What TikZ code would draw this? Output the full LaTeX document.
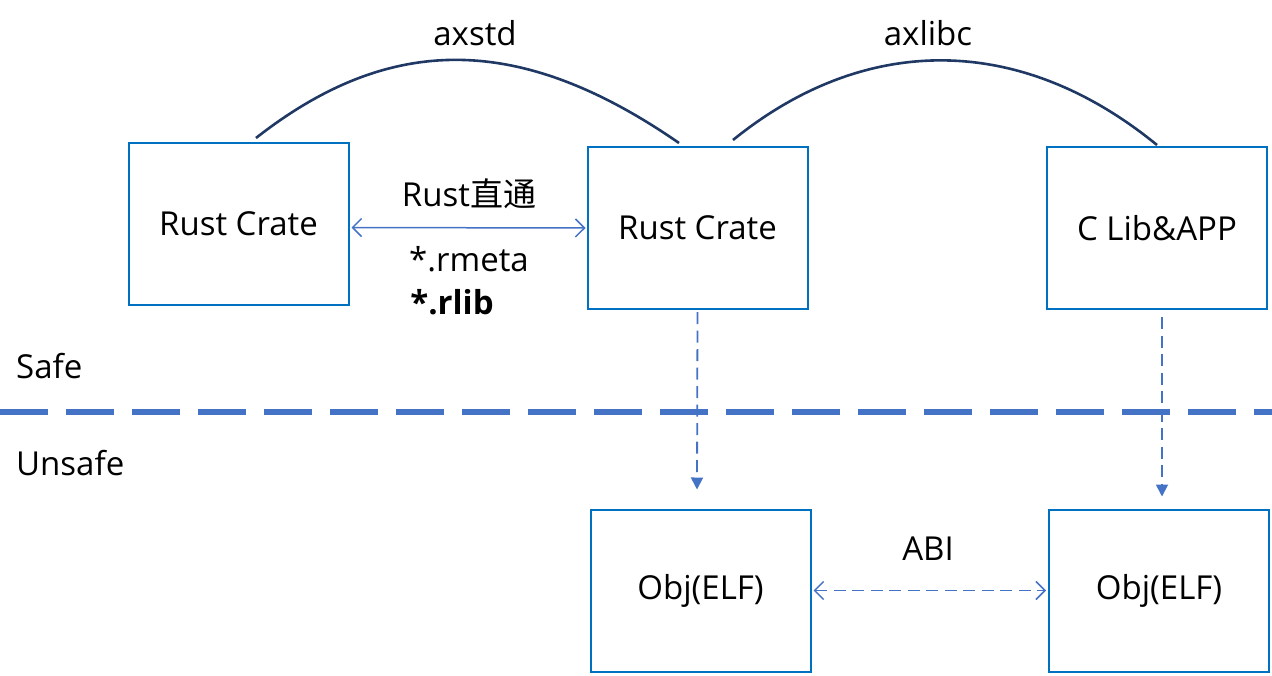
\documentclass[tikz,border=0pt]{standalone}
\usepackage{fontspec}
\setmainfont{Open Sans}
\newfontfamily\cjk{Noto Sans CJK SC}
\usetikzlibrary{arrows.meta}
\definecolor{boxblue}{HTML}{0070C0}
\definecolor{arrblue}{HTML}{4472C4}
\definecolor{navy}{HTML}{1F3864}
\begin{document}
\begin{tikzpicture}[x=1pt,y=-1pt,
  crate/.style={draw=boxblue,line width=2pt,minimum width=220pt,minimum height=162pt,inner sep=0pt,font=\fontsize{33}{38}\selectfont},
  lbl/.style={inner sep=0pt,font=\fontsize{33}{38}\selectfont},
  curve/.style={draw=navy,line width=2.6pt},
  thin/.style={draw=arrblue,line width=1.5pt},
  openhead/.style={{Straight Barb[length=9pt,width=18pt,line width=1.5pt]}-{Straight Barb[length=9pt,width=18pt,line width=1.5pt]}},
  dasharr/.style={draw=arrblue,line width=1.8pt,dash pattern=on 12pt off 6.5pt},
]
\useasboundingbox (0,0) rectangle (1272,675);
\node[crate] (b1) at (238.5,223.5) {Rust Crate};
\node[crate] (b2) at (697.5,228) {Rust Crate};
\node[crate] (b3) at (1157,228) {C Lib\&APP};
\node[crate] (b4) at (700.5,590.5) {Obj(ELF)};
\node[crate] (b5) at (1159,590.5) {Obj(ELF)};
% labels
\node[lbl] (axstd) at (475,33) {axstd};
\node[lbl] (axlibc) at (928,33) {axlibc};
\node[lbl] (rz) at (469,194) {Rust{\cjk 直通}};
\node[lbl] (rmeta) at (469,259) {*.rmeta};
\node[lbl,font=\fontsize{33}{38}\selectfont\bfseries] (rlib) at (452,302) {*.rlib};
\node[lbl] (abi) at (928,549) {ABI};
\node[lbl,anchor=west] (safe) at (16,366) {Safe};
\node[lbl,anchor=west] (unsafe) at (16,463) {Unsafe};
% curves
\coordinate (c1s) at (256,138);
\coordinate (c1e) at (679,143);
\coordinate (c2s) at (733,140);
\coordinate (c2e) at (1157,145);
\draw[curve] (c1s) .. controls (390,33) and (520,33) .. (c1e);
\draw[curve] (c2s) .. controls (865,33) and (1020,33) .. (c2e);
% separator
\coordinate (sepL) at (0,412);
\coordinate (sepR) at (1272,412);
\draw[arrblue,line width=6pt,dash pattern=on 48pt off 18pt] (sepL) -- (sepR);
% arrows
\draw[thin,openhead] (b1.east) ++(2,4) -- ([xshift=-1pt,yshift=0pt]b2.west);
\draw[dasharr,-{Triangle[length=12pt,width=12pt]}] ([yshift=-2pt]b2.south) -- ([yshift=19pt,xshift=-3.5pt]b4.north);
\draw[dasharr,-{Triangle[length=12pt,width=12pt]}] ([yshift=-7pt,xshift=5pt]b3.south) -- ([yshift=12pt,xshift=3pt]b5.north);
\draw[dasharr,{Straight Barb[length=9pt,width=18pt,line width=1.5pt]}-{Straight Barb[length=9pt,width=18pt,line width=1.5pt]}] ([xshift=2pt]b4.east) -- ([xshift=-2pt]b5.west);
\end{tikzpicture}
\end{document}
